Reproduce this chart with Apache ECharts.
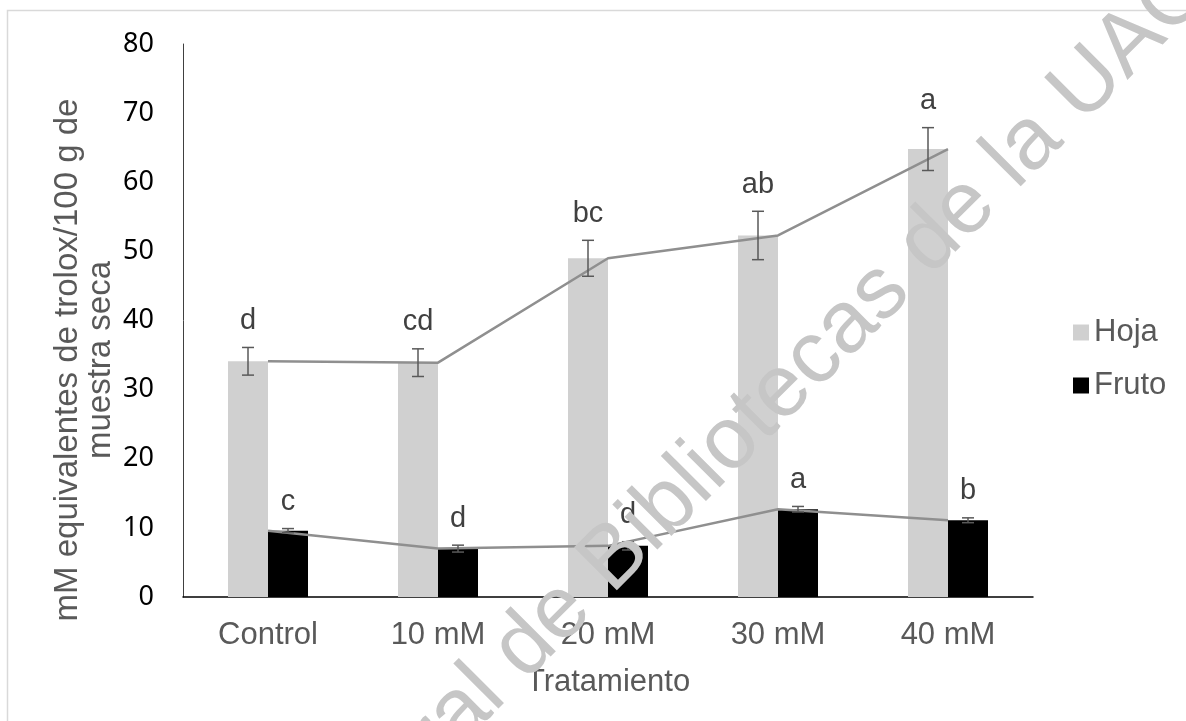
<!DOCTYPE html>
<html>
<head>
<meta charset="utf-8">
<script src="https://cdn.jsdelivr.net/npm/echarts@6/dist/echarts.min.js"></script>
<style>
html,body{margin:0;padding:0;background:#fff;}
#chart{width:1186px;height:721px;}
</style>
</head>
<body>
<div id="chart"></div>
<script>
// ---- data ----
const categories = ['Control', '10 mM', '20 mM', '30 mM', '40 mM'];
const hoja = [34.1, 33.9, 49.0, 52.3, 64.8];
const hojaErr = [2.0, 2.0, 2.6, 3.5, 3.1];
const hojaLetters = ['d', 'cd', 'bc', 'ab', 'a'];
const fruto = [9.6, 7.0, 7.4, 12.7, 11.1];
const frutoErr = [0.3, 0.5, 0.6, 0.4, 0.35];
const frutoLetters = ['c', 'd', 'd', 'a', 'b'];
const yTicks = { min: 0, max: 80, interval: 10 };
const yAxisTitle = 'mM equivalentes de trolox/100 g de\nmuestra seca';
const xAxisTitle = 'Tratamiento';
const watermark = 'Dirección General de Bibliotecas de la UAQ';

const BAR_W = 40;
const sans = '"Liberation Sans", Arial, sans-serif';

const errData = [];
categories.forEach((c, i) => {
  errData.push([i, hoja[i], hojaErr[i], -1, hojaLetters[i]]);
  errData.push([i, fruto[i], frutoErr[i], 1, frutoLetters[i]]);
});

const WM_ANGLE = 45 * Math.PI / 180;

const chart = echarts.init(document.getElementById('chart'), null, { renderer: 'canvas' });

const option = {
  backgroundColor: '#fff',
  animation: false,
  grid: { left: 183, right: 153, top: 44, bottom: 124, containLabel: false },
  legend: {
    data: ['Hoja', 'Fruto'],
    orient: 'vertical',
    left: 1068,
    top: 312,
    itemGap: 22,
    itemWidth: 16,
    itemHeight: 16,
    icon: 'rect',
    textStyle: { color: '#595959', fontSize: 31, fontFamily: sans }
  },
  xAxis: {
    type: 'category',
    data: categories,
    name: xAxisTitle,
    nameLocation: 'middle',
    nameGap: 70,
    nameTextStyle: { color: '#595959', fontSize: 31, fontFamily: sans },
    axisLine: { lineStyle: { color: '#000', width: 1.5 } },
    axisTick: { show: false },
    axisLabel: { color: '#595959', fontSize: 31, fontFamily: sans, margin: 23 }
  },
  yAxis: {
    type: 'value',
    min: yTicks.min,
    max: yTicks.max,
    interval: yTicks.interval,
    axisLine: { show: true, lineStyle: { color: '#404040', width: 1 } },
    axisTick: { show: false },
    splitLine: { show: false },
    axisLabel: { color: '#000', fontSize: 27, fontFamily: '"Noto Sans", sans-serif', margin: 29 }
  },
  graphic: [
    {
      type: 'rect',
      shape: { x: 7.5, y: 10.5, width: 1200, height: 800 },
      style: { fill: 'none', stroke: '#d9d9d9', lineWidth: 1.5 },
      silent: true, z: -10
    },
    {
      type: 'text',
      x: 84, y: 360,
      rotation: Math.PI / 2,
      style: {
        text: yAxisTitle,
        fill: '#595959',
        font: '33px ' + sans,
        textAlign: 'center',
        textVerticalAlign: 'middle',
        lineHeight: 33
      },
      z: 10
    },
    {
      type: 'text',
      x: 24, y: 1211,
      rotation: WM_ANGLE,
      style: {
        text: watermark,
        fill: '#c6c6c6',
        font: '88px ' + sans,
        textAlign: 'left',
        textVerticalAlign: 'bottom',
        blend: 'multiply'
      },
      silent: true,
      z: 100
    }
  ],
  series: [
    {
      name: 'Hoja', type: 'bar', data: hoja, barWidth: BAR_W, barGap: '0%',
      itemStyle: { color: '#d0d0d0' }, z: 2
    },
    {
      name: 'Fruto', type: 'bar', data: fruto, barWidth: BAR_W, barGap: '0%',
      itemStyle: { color: '#000000' }, z: 2
    },
    {
      name: 'HojaLine', type: 'line', data: hoja, symbol: 'none',
      lineStyle: { color: '#8f8f8f', width: 2.5 }, z: 5
    },
    {
      name: 'FrutoLine', type: 'line', data: fruto, symbol: 'none',
      lineStyle: { color: '#8f8f8f', width: 2.5 }, z: 5
    },
    {
      name: 'errors', type: 'custom', data: errData, z: 6,
      renderItem: function (params, api) {
        const idx = api.value(0);
        const v = api.value(1);
        const e = api.value(2);
        const side = api.value(3);
        const letter = errData[params.dataIndex][4];
        const center = api.coord([idx, v]);
        const cx = center[0] + side * BAR_W / 2;
        const hi = api.coord([idx, v + e])[1];
        const lo = api.coord([idx, v - e])[1];
        const cap = 6;
        const ls = { stroke: '#595959', lineWidth: 1.5 };
        return {
          type: 'group',
          children: [
            { type: 'line', shape: { x1: cx, y1: hi, x2: cx, y2: lo }, style: ls },
            { type: 'line', shape: { x1: cx - cap, y1: hi, x2: cx + cap, y2: hi }, style: ls },
            { type: 'line', shape: { x1: cx - cap, y1: lo, x2: cx + cap, y2: lo }, style: ls },
            {
              type: 'text', x: cx, y: hi - 12,
              style: {
                text: letter, fill: '#404040', font: '29px ' + sans,
                textAlign: 'center', textVerticalAlign: 'bottom'
              }
            }
          ]
        };
      }
    }
  ]
};
chart.setOption(option);
</script>
</body>
</html>
